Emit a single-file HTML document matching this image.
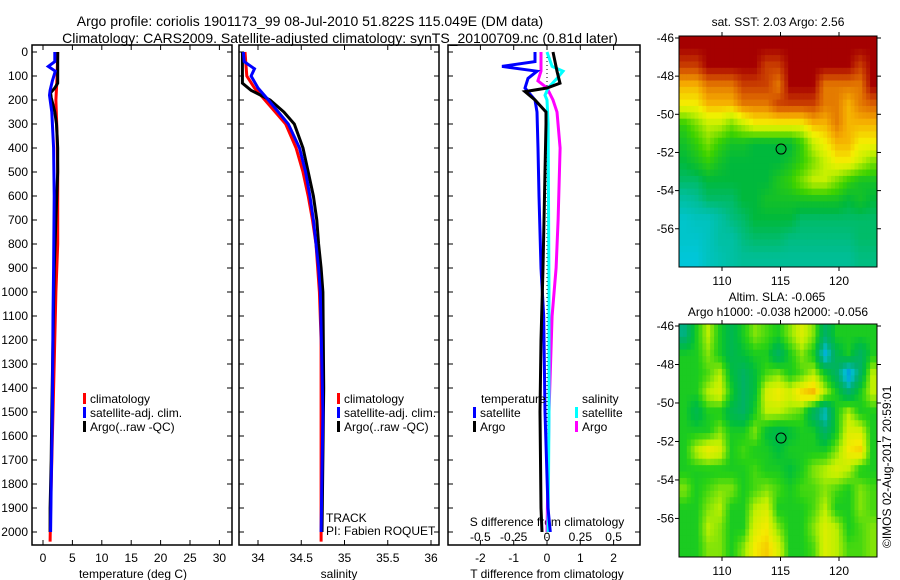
<!DOCTYPE html>
<html><head><meta charset="utf-8">
<style>
body{margin:0;background:#fff;}
svg{display:block;font-family:"Liberation Sans",sans-serif;}
text{fill:#000;}
</style></head>
<body>
<svg id="c" width="900" height="580" viewBox="0 0 900 580" xmlns="http://www.w3.org/2000/svg">
<text x="310" y="26" font-size="14" text-anchor="middle">Argo profile: coriolis 1901173_99 08-Jul-2010 51.822S 115.049E (DM data)</text>
<text x="340" y="43" font-size="14" text-anchor="middle">Climatology: CARS2009. Satellite-adjusted climatology: synTS_20100709.nc (0.81d later)</text>
<g id="g"></g>
</svg>
<script>
// ---- data ----
const depthLevels = [0,100,200,300,400,500,600,700,800,900,1000,1100,1200,1300,1400,1500,1600,1700,1800,1900,2000];
const tempTicks = [0,5,10,15,20,25,30];
const salTicks = [34,34.5,35,35.5,36];
const tdiffTicks = [-2,-1,0,1,2];
const sdiffTicks = [-0.5,-0.25,0,0.25,0.5];
const sdiffTickLabels = ["-0.5","-0.25","0","0.25","0.5"];

const tArgoDepth = [0,130,150,170,190,250,300,400,500,700,900,1200,1500,1700,1900,2000];
const tArgoVal   = [2.5,2.5,2.0,1.3,1.4,2.0,2.3,2.5,2.5,2.2,1.9,1.7,1.5,1.4,1.2,1.2];
const tClimDepth = [0,100,150,200,350,500,800,1000,1300,1600,1900,2040];
const tClimVal   = [2.5,2.4,2.3,2.2,2.4,2.5,2.5,2.2,1.9,1.6,1.3,1.2];
const tSatDepth  = [0,40,60,80,120,160,180,250,400,600,900,1100,1500,1800,2000];
const tSatVal    = [2.0,2.0,0.9,2.1,1.6,1.2,1.1,1.5,1.8,1.9,1.8,1.7,1.6,1.4,1.3];

const sArgoDepth = [0,130,160,200,250,300,400,500,600,700,800,900,1000,1400,2000];
const sArgoVal   = [33.82,33.82,33.92,34.14,34.30,34.42,34.52,34.58,34.64,34.68,34.70,34.73,34.75,34.76,34.74];
const sClimDepth = [0,100,150,200,300,400,500,600,700,800,900,1000,1200,2040];
const sClimVal   = [33.85,33.87,33.96,34.08,34.32,34.44,34.52,34.58,34.63,34.67,34.69,34.71,34.73,34.73];
const sSatDepth  = [0,40,70,100,150,200,300,400,500,600,700,800,900,1000,1500,2000];
const sSatVal    = [33.83,33.84,33.96,33.92,34.00,34.12,34.35,34.48,34.55,34.60,34.64,34.67,34.70,34.72,34.75,34.73];

const dTSatDepth = [0,40,60,80,110,150,170,200,250,400,600,900,1100,1500,1900,2000];
const dTSatVal   = [-0.36,-0.36,-1.35,-0.3,-0.57,-0.66,-0.54,-0.36,-0.3,-0.27,-0.24,-0.18,-0.1,-0.06,0.03,0.1];
const dTArgoDepth = [0,80,130,150,165,200,250,300,500,700,900,1200,1500,1900,2000];
const dTArgoVal   = [0.18,0.3,0.39,0.0,-0.66,-0.36,-0.03,-0.03,-0.06,-0.09,-0.12,-0.18,-0.21,-0.18,-0.15];
const dSArgoDepth = [0,80,120,150,200,250,400,700,900,1100,1500,2000];
const dSArgoVal   = [-0.045,-0.045,-0.068,0.0,0.045,0.075,0.098,0.083,0.068,0.038,0.015,0.0];
const dSSatDepth  = [0,60,80,110,150,180,200,300,1000,1500,2000];
const dSSatVal    = [0.0,0.038,0.12,0.075,0.008,-0.015,0.0,0.008,0.015,0.015,0.008];

const mapLons = [106.8,107.8,108.8,109.8,110.8,111.8,112.8,113.8,114.8,115.8,116.8,117.8,118.8,119.8,120.8,121.8,122.8];
const mapLats = [-46.5,-47.5,-48.5,-49.5,-50.5,-51.5,-52.5,-53.5,-54.5,-55.5,-56.5,-57.5];
const mapYTicks = [-46,-48,-50,-52,-54,-56];
const mapXTicks = [110,115,120];
const sstGrid = [
[5,5,5,5,5,5,5,5,5,5,5,5,5,5,5,5,5],
[4.5,4.5,5,5,5,5,5,4.5,4.5,5,5,5,5,5,5,4.5,5],
[3.5,3.5,4,4,4,4.5,4.5,4.5,4,5,5,5,4,4,4,4,5],
[3,3,3.5,3.5,3.5,4,4,4,4.5,4.5,4.5,4.5,4,4,3.5,4,4.2],
[1.5,2,2.5,2.5,2,2.5,3,3,3,3,3,3.5,3.5,4,3.5,3.5,3.5],
[1.2,1.5,2,1.5,1.2,1.2,1,1,1,1,1.5,2.5,3,3.5,3.5,3,3],
[1,1.2,1.5,1.2,1,1,1,1,1,1.2,1.5,2,2.5,3,3,2.5,2],
[0.8,0.8,1,1,1,1,1,1,1.3,1.5,2,2.5,2.5,2,1.5,1.2,1.2],
[0.5,0.6,0.8,0.8,0.8,1,1,1.2,1.2,1.2,1.2,1.2,1.2,1.2,1,1.2,1],
[0.2,0.3,0.3,0.5,0.7,0.8,1,1,1,1,0.8,0.8,0.8,0.8,0.8,0.8,0.8],
[0.2,0.2,0.3,0.5,0.5,0.7,0.8,0.8,0.8,0.7,0.7,0.7,0.7,0.7,0.7,0.8,0.8],
[0.1,0.1,0.3,0.4,0.5,0.6,0.6,0.6,0.6,0.6,0.6,0.6,0.6,0.6,0.6,0.7,0.7]];
const slaGrid = [
[-0.4,0,0.3,0,-0.2,0,0.2,0.1,0,0.2,0.4,0.2,-0.3,0,0,0,0],
[0,0,0.2,0,-0.2,-0.1,0,0,-0.3,0,0.2,0,-0.7,-0.2,0,-0.3,0],
[0,0,0.1,0.3,-0.1,-0.3,-0.1,0.1,0.2,0,0.1,0.3,0,-0.3,-0.8,-0.3,0.3],
[0,0,0.3,0.4,0,-0.3,-0.1,0.4,0.5,0.4,0.6,0.7,0.3,0,-0.3,0,0.3],
[0,-0.2,0,0,-0.2,-0.3,0,0.3,0.3,0.2,0.1,-0.3,-0.6,0,0.3,0,0],
[0,0,0,0.2,0,0,0.2,-0.1,-0.2,-0.1,0,0,-0.3,0,0.4,0.4,0],
[0,0.3,0.5,0.4,0,0.1,0,0,-0.1,0,0,0,0,0.2,0.5,0.6,0],
[0,0,0,0,0,0,0.1,0,0,-0.1,0,0.2,0.3,0.4,0.3,0,0],
[0.2,0,0.1,0.2,0.2,0,0.1,0.2,0.1,0,0.1,0.1,0.2,0.1,0,0.2,0.1],
[0,0,0.2,0.3,0,0,0.3,0.4,0,0,0,0.1,0.3,0,0,0.2,0.1],
[0,0,0.3,0.2,0,0,0.4,0.5,0.2,0,0,0.2,0.4,0.3,0,0.1,0.2],
[0,0,0.2,0.2,0,0.2,0.5,0.6,0.4,0,0,0.1,0.4,0.3,0.1,0.1,0.2]];
const argoLon = 115.049;
const argoLat = -51.822;

// ---- drawing ----
const NS='http://www.w3.org/2000/svg';
const G=document.getElementById('g');
function mk(tag,attrs,parent){const e=document.createElementNS(NS,tag);for(const k in attrs)e.setAttribute(k,attrs[k]);(parent||G).appendChild(e);return e;}
function txt(x,y,s,size,anchor,parent){const t=mk('text',{x:x,y:y,'font-size':size||12,'text-anchor':anchor||'start'},parent);t.textContent=s;return t;}

const Y0=52, YPX=0.24, TOP=45, BOT=545;
const yD=d=>Y0+d*YPX;
const xT=v=>43+v*5.88;
const xS=v=>258+(v-34)*86.5;
const xDT=v=>547+v*33.3;
const xDS=v=>547+v*133.3;

const panels=[{l:32,r:232,n:'temperature-panel'},{l:239,r:439,n:'salinity-panel'},{l:448,r:640,n:'difference-panel'}];
panels.forEach((p,i)=>{
  const r=mk('rect',{x:p.l,y:TOP,width:p.r-p.l,height:BOT-TOP,fill:'none',stroke:'#000','stroke-width':1.5});
  
  
  depthLevels.forEach(d=>{
    mk('line',{x1:p.l,x2:p.l+5,y1:yD(d),y2:yD(d),stroke:'#000'});
    mk('line',{x1:p.r-5,x2:p.r,y1:yD(d),y2:yD(d),stroke:'#000'});
    if(i===0){const t=txt(28,yD(d)+4,String(d),12,'end');
      
      }
  });
});
function xTicks(ticks,fx,labels){
  ticks.forEach((v,k)=>{
    mk('line',{x1:fx(v),x2:fx(v),y1:TOP,y2:TOP+5,stroke:'#000'});
    mk('line',{x1:fx(v),x2:fx(v),y1:BOT-5,y2:BOT,stroke:'#000'});
    const t=txt(fx(v),562,labels?labels[k]:String(v),12,'middle');
    
    
  });
}
xTicks(tempTicks,xT);
xTicks(salTicks,xS);
xTicks(tdiffTicks,xDT);
sdiffTicks.forEach((v,k)=>{
  const t=txt(xDS(v),541,sdiffTickLabels[k],12,'middle');
  
  
});
let t;
t=txt(133,578,'temperature (deg C)',12,'middle');
t=txt(339,578,'salinity',12,'middle');
t=txt(547,578,'T difference from climatology',12,'middle');
t=txt(547,526,'S difference from climatology',12,'middle');

const zl=mk('line',{x1:xDT(0),x2:xDT(0),y1:TOP,y2:BOT,stroke:'#000','stroke-dasharray':'1 3'});



function step(depths,vals,fx,color,name){
  let pts=[];
  for(let i=0;i<depths.length;i++){
    pts.push(fx(vals[i]).toFixed(1)+','+yD(depths[i]).toFixed(1));
  }
  const pl=mk('polyline',{points:pts.join(' '),fill:'none',stroke:color,'stroke-width':3,'stroke-linejoin':'miter'});
  
  
}
step(tClimDepth,tClimVal,xT,'#f00','temp-climatology-line');
step(tArgoDepth,tArgoVal,xT,'#000','temp-argo-line');
step(tSatDepth,tSatVal,xT,'#00f','temp-satellite-line');
step(sClimDepth,sClimVal,xS,'#f00','sal-climatology-line');
step(sArgoDepth,sArgoVal,xS,'#000','sal-argo-line');
step(sSatDepth,sSatVal,xS,'#00f','sal-satellite-line');
step(dSArgoDepth,dSArgoVal,xDS,'#f0f','sdiff-argo-line');
step(dSSatDepth,dSSatVal,xDS,'#0ff','sdiff-satellite-line');
step(dTSatDepth,dTSatVal,xDT,'#00f','tdiff-satellite-line');
step(dTArgoDepth,dTArgoVal,xDT,'#000','tdiff-argo-line');

function legItem(x,y,color,label,name){
  mk('rect',{x:x,y:y-10,width:3,height:11,fill:color});
  const tt=txt(x+7,y,label,12);
  
  
}
legItem(83,403,'#f00','climatology','legend-climatology');
legItem(83,417,'#00f','satellite-adj. clim.','legend-satellite-adj');
legItem(83,431,'#000','Argo(..raw -QC)','legend-argo');
legItem(337,403,'#f00','climatology','legend-climatology-2');
legItem(337,417,'#00f','satellite-adj. clim.','legend-satellite-adj-2');
legItem(337,431,'#000','Argo(..raw -QC)','legend-argo-2');
t=txt(481,403,'temperature',12);
t=txt(582,403,'salinity',12);
legItem(473,417,'#00f','satellite','legend-t-satellite');
legItem(473,431,'#000','Argo','legend-t-argo');
legItem(575,417,'#0ff','satellite','legend-s-satellite');
legItem(575,431,'#f0f','Argo','legend-s-argo');
t=txt(326,522,'TRACK',12);
t=txt(326,535,'PI: Fabien ROQUET',12);

// ---- maps ----
function lerpC(stops,v){
  if(v<=stops[0][0])return stops[0][1];
  for(let i=1;i<stops.length;i++){
    if(v<=stops[i][0]){const a=stops[i-1],b=stops[i];const f=(v-a[0])/(b[0]-a[0]);
      return a[1].map((x,k)=>Math.round(x+(b[1][k]-x)*f));}
  }
  return stops[stops.length-1][1];
}
const sstStops=[[0,[0,200,230]],[0.6,[0,190,150]],[1,[0,185,60]],[1.6,[60,210,0]],[2.5,[200,240,0]],[3,[245,240,0]],[3.6,[245,170,0]],[4.2,[220,100,0]],[4.7,[190,40,0]],[5,[165,0,0]]];
const slaStops=[[-0.9,[0,110,230]],[-0.6,[0,190,210]],[-0.35,[0,175,110]],[-0.1,[0,190,60]],[0.05,[40,210,20]],[0.3,[190,240,0]],[0.5,[245,235,0]],[0.8,[245,140,0]]];

function sample(grid,fr,fc){
  fr=Math.max(0,Math.min(grid.length-1,fr));fc=Math.max(0,Math.min(grid[0].length-1,fc));
  const r0=Math.floor(fr),c0=Math.floor(fc),r1=Math.min(r0+1,grid.length-1),c1=Math.min(c0+1,grid[0].length-1);
  const a=fr-r0,b=fc-c0;
  return grid[r0][c0]*(1-a)*(1-b)+grid[r0][c1]*(1-a)*b+grid[r1][c0]*a*(1-b)+grid[r1][c1]*a*b;
}

function drawMap(top,bottom,grid,stops,name){
  const L=679,R=877;
  const dLat=(bottom-top-4)/11.9;
  const mx=lon=>722+(lon-110)*11.7;
  const my=lat=>top+2+(-46-lat)*dLat;
  const grp=mk('g',{});
  
  
  const cid=name+'-clip';
  const cp=mk('clipPath',{id:cid},grp);
  mk('rect',{x:L,y:top,width:R-L,height:bottom-top},cp);
  const cells=mk('g',{'clip-path':'url(#'+cid+')'},grp);
  const SUB=3;
  const lon0=mapLons[0], lat0=mapLats[0];
  const cw=11.7/SUB, ch=dLat/SUB;
  for(let x=L;x<R;x+=cw){
    for(let y=top;y<bottom;y+=ch){
      const lon=110+(x+cw/2-722)/11.7;
      const lat=-46-((y+ch/2)-top-2)/dLat;
      const fc=lon-lon0, fr=lat0-lat;
      const col=lerpC(stops,sample(grid,fr,fc));
      mk('rect',{x:x.toFixed(2),y:y.toFixed(2),width:(cw+0.6).toFixed(2),height:(ch+0.6).toFixed(2),fill:'rgb('+col.join(',')+')'},cells);
    }
  }
  mk('rect',{x:L,y:top,width:R-L,height:bottom-top,fill:'none',stroke:'#000','stroke-width':1},grp);
  mapYTicks.forEach(v=>{
    mk('line',{x1:L-4,x2:L,y1:my(v),y2:my(v),stroke:'#000'},grp);
    mk('line',{x1:R,x2:R+4,y1:my(v),y2:my(v),stroke:'#000'},grp);
    const tl=txt(L-5,my(v)+4,String(v),12,'end',grp);
    
    
  });
  mapXTicks.forEach(v=>{
    mk('line',{x1:mx(v),x2:mx(v),y1:top-4,y2:top,stroke:'#000'},grp);
    mk('line',{x1:mx(v),x2:mx(v),y1:bottom,y2:bottom+4,stroke:'#000'},grp);
    const tl=txt(mx(v),bottom+18,String(v),12,'middle',grp);
    
    
  });
  const circ=mk('circle',{cx:mx(argoLon),cy:my(argoLat),r:5,fill:'none',stroke:'#000','stroke-width':1},grp);
  
  
}
drawMap(36,267,sstGrid,sstStops,'sst-map');
drawMap(324,557,slaGrid,slaStops,'sla-map');
t=txt(778,26,'sat. SST: 2.03 Argo: 2.56',12,'middle');
t=txt(777,301,'Altim. SLA: -0.065',12,'middle');
t=txt(778,316,'Argo h1000: -0.038 h2000: -0.056',12,'middle');
t=txt(0,0,'©IMOS 02-Aug-2017 20:59:01',12,'start');
t.setAttribute('transform','translate(891,548) rotate(-90)');


</script>
</body></html>
